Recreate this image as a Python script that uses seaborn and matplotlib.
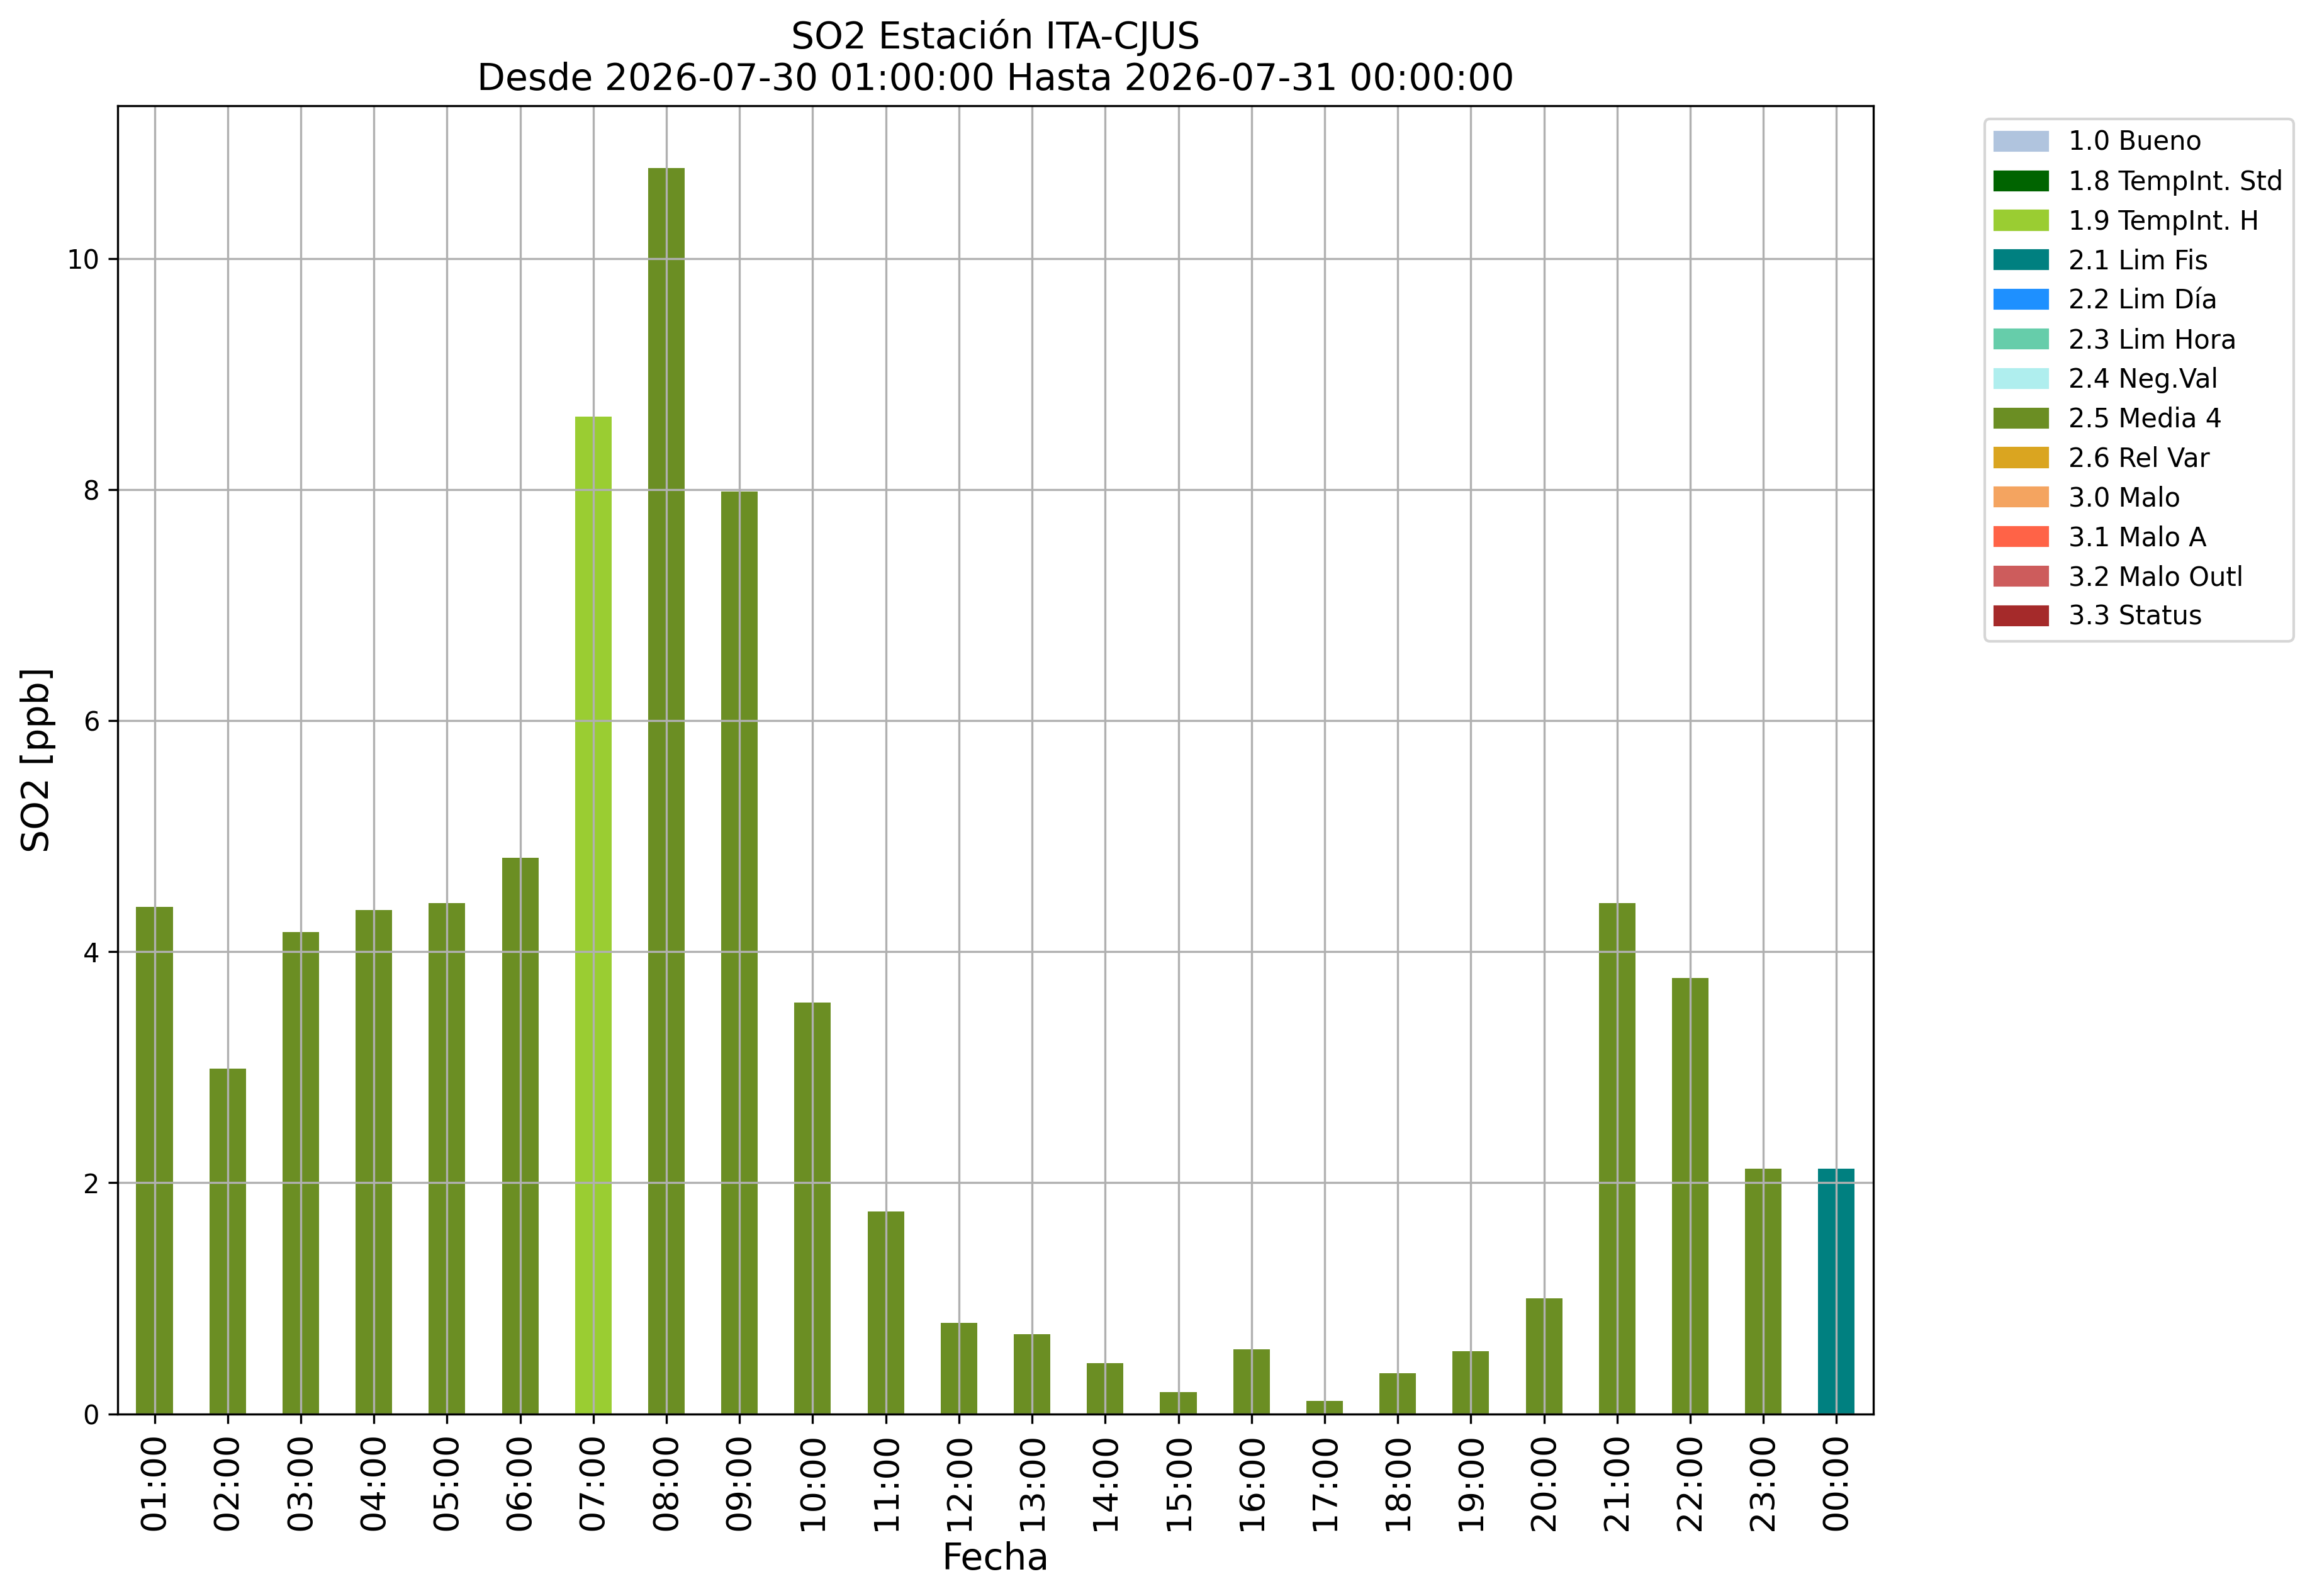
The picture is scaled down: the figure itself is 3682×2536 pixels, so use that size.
import matplotlib
matplotlib.use("Agg")
import matplotlib.pyplot as plt
import matplotlib.patches as mpatches
import seaborn as sns
import pandas as pd

# Datos
horas = ["01:00", "02:00", "03:00", "04:00", "05:00", "06:00", "07:00", "08:00",
         "09:00", "10:00", "11:00", "12:00", "13:00", "14:00", "15:00", "16:00",
         "17:00", "18:00", "19:00", "20:00", "21:00", "22:00", "23:00", "00:00"]
so2 = [4.39, 2.99, 4.17, 4.36, 4.42, 4.81, 8.63, 10.78,
       7.98, 3.56, 1.75, 0.79, 0.69, 0.44, 0.19, 0.56,
       0.11, 0.35, 0.54, 1.00, 4.42, 3.77, 2.12, 2.12]
flags = ["2.5 Media 4", "2.5 Media 4", "2.5 Media 4", "2.5 Media 4", "2.5 Media 4", "2.5 Media 4",
         "1.9 TempInt. H", "2.5 Media 4", "2.5 Media 4", "2.5 Media 4", "2.5 Media 4", "2.5 Media 4",
         "2.5 Media 4", "2.5 Media 4", "2.5 Media 4", "2.5 Media 4", "2.5 Media 4", "2.5 Media 4",
         "2.5 Media 4", "2.5 Media 4", "2.5 Media 4", "2.5 Media 4", "2.5 Media 4", "2.1 Lim Fis"]

# Leyenda de flags de calidad
etiquetas = ["1.0 Bueno", "1.8 TempInt. Std", "1.9 TempInt. H", "2.1 Lim Fis", "2.2 Lim Día",
             "2.3 Lim Hora", "2.4 Neg.Val", "2.5 Media 4", "2.6 Rel Var", "3.0 Malo",
             "3.1 Malo A", "3.2 Malo Outl", "3.3 Status"]
colores = ["lightsteelblue", "darkgreen", "yellowgreen", "teal", "dodgerblue",
           "mediumaquamarine", "paleturquoise", "olivedrab", "goldenrod", "sandybrown",
           "tomato", "indianred", "brown"]

df = pd.DataFrame({"Hora": horas, "SO2": so2, "Flag": flags})
paleta = dict(zip(etiquetas, colores))

fig = plt.figure(figsize=(3682 / 300, 2536 / 300), dpi=300)
ax = fig.add_axes([0.0509, 0.1141, 0.8084 - 0.0509, 0.9336 - 0.1141])

sns.barplot(data=df, x="Hora", y="SO2", hue="Flag", palette=paleta, dodge=False,
            width=0.5, saturation=1, errorbar=None, legend=False, ax=ax)

ax.set_xlim(-0.5, len(horas) - 0.5)
ax.set_ylim(0, max(so2) * 1.05)
ax.grid(True)
ax.tick_params(axis="x", labelsize=13, labelrotation=90)
ax.set_xlabel("Fecha", fontsize=14)
ax.set_ylabel("SO2 [ppb]", fontsize=14)
ax.set_title("SO2 Estación ITA-CJUS\nDesde 2026-07-30 01:00:00 Hasta 2026-07-31 00:00:00", fontsize=14)

parches = [mpatches.Patch(color=c, label=l) for l, c in zip(etiquetas, colores)]
ax.legend(handles=parches, bbox_to_anchor=(1.056, 1), loc="upper left")

fig.savefig("out.png", dpi=300)
